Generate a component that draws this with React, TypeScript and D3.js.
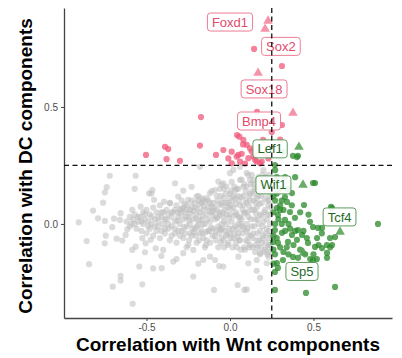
import React, { useEffect, useRef } from "react";
import * as d3 from "d3";

type Pt = [number, number];

const xTicks = [-0.5, 0, 0.5];
const yTicks = [0, 0.5];
const wntCut = 0.25;
const dcCut = 0.25;

// gray: below both cut-offs
const grayPoints: Pt[] = [
  [-0.72, 0.206], [-0.565, 0.206], [-0.738, 0.157], [-0.749, 0.135], [-0.571, 0.15], [-0.76, 0.091],
  [-0.82, 0.057], [-0.906, 0.007], [-0.79, 0.024], [-0.749, 0.013], [-0.695, 0.023], [-0.659, 0.017],
  [-0.705, -0.014], [-0.655, 0.046], [-0.615, -0.023], [-0.744, -0.05], [-0.858, -0.073], [-0.75, -0.083],
  [-0.679, -0.063], [-0.645, -0.071], [-0.625, -0.047], [-0.585, -0.111], [-0.509, -0.121], [-0.543, -0.182],
  [-0.411, -0.137], [-0.409, -0.189], [-0.844, -0.172], [-0.655, -0.222], [-0.655, -0.242], [-0.702, -0.268],
  [-0.525, -0.258], [-0.583, -0.341], [-0.585, 0.06], [-0.535, 0.074], [-0.485, 0.131], [-0.465, 0.145],
  [-0.455, 0.103], [-0.525, -0.061], [-0.505, -0.083], [-0.565, -0.097], [-0.445, -0.104], [-0.475, -0.068],
  [-0.329, 0.174], [-0.28, 0.142], [-0.23, 0.159], [-0.18, 0.244], [-0.395, 0.095], [-0.359, 0.088],
  [-0.31, 0.117], [-0.25, 0.103], [-0.2, 0.117], [-0.16, 0.103], [-0.12, 0.131], [-0.09, 0.145],
  [-0.07, 0.181], [-0.04, 0.174], [0, 0.217], [0.02, 0.231], [0.06, 0.188], [0.08, 0.159], [0.03, 0.145],
  [0.11, 0.209], [0.14, 0.188], [-0.4, -0.111], [-0.34, -0.161], [-0.28, -0.125], [-0.22, -0.111],
  [-0.16, -0.154], [-0.12, -0.14], [-0.09, -0.154], [-0.04, -0.182], [-0.22, -0.225], [-0.096, -0.282],
  [0.046, -0.261], [0.086, -0.282], [0.05, -0.14], [0.11, -0.168], [0.16, -0.154], [0.18, -0.125],
  [0.22, -0.168], [-0.46, -0.19], [-0.32, -0.15], [-0.26, -0.1], [-0.19, -0.17], [-0.065, -0.18],
  [0.1, -0.28], [0.18, -0.23], [0.16, -0.2], [-0.47, 0.13], [-0.05, 0.167], [0.06, 0.244], [0.1, 0.218],
  [0.12, 0.188],
  [-0.62, 0.01], [-0.6, 0.03], [-0.6, -0.01], [-0.58, 0.02], [-0.57, 0.04], [-0.56, -0.02], [-0.55, 0.01],
  [-0.59, 0.0], [-0.54, 0.03], [-0.53, -0.03], [-0.52, 0.05], [-0.52, 0.0], [-0.51, 0.02], [-0.5, -0.04],
  [-0.5, 0.06], [-0.49, 0.01], [-0.48, -0.02], [-0.48, 0.04], [-0.47, 0.0], [-0.46, -0.05], [-0.46, 0.07],
  [-0.45, 0.02], [-0.45, -0.01], [-0.44, 0.05], [-0.44, -0.03], [-0.43, 0.01], [-0.42, 0.08], [-0.42, -0.06],
  [-0.41, 0.03], [-0.4, 0.0], [-0.4, 0.05], [-0.39, -0.04], [-0.38, 0.06], [-0.38, 0.02], [-0.37, -0.02],
  [-0.36, 0.09], [-0.36, -0.07], [-0.35, 0.03], [-0.35, -0.01], [-0.34, 0.05], [-0.33, -0.04], [-0.33, 0.01],
  [-0.32, 0.08], [-0.32, -0.08], [-0.31, 0.03], [-0.3, 0.0], [-0.3, 0.06], [-0.29, -0.03], [-0.29, 0.1],
  [-0.28, 0.02], [-0.28, -0.06], [-0.27, 0.05], [-0.26, -0.01], [-0.26, 0.08], [-0.25, 0.03], [-0.25, -0.09],
  [-0.24, 0.0], [-0.24, 0.06], [-0.23, -0.05], [-0.23, 0.1], [-0.22, 0.02], [-0.21, -0.02], [-0.21, 0.07],
  [-0.2, 0.04], [-0.2, -0.08], [-0.19, 0.0], [-0.19, 0.12], [-0.18, -0.04], [-0.18, 0.05], [-0.17, 0.09],
  [-0.17, 0.02], [-0.16, -0.06], [-0.16, 0.06], [-0.15, 0.0], [-0.15, -0.1], [-0.14, 0.04], [-0.14, 0.11],
  [-0.13, -0.03], [-0.13, 0.07], [-0.12, 0.01], [-0.12, -0.08], [-0.11, 0.14], [-0.11, 0.05], [-0.1, -0.02],
  [-0.1, 0.09], [-0.09, 0.02], [-0.09, -0.05], [-0.08, 0.12], [-0.08, 0.06], [-0.07, -0.01], [-0.07, -0.1],
  [-0.06, 0.04], [-0.06, 0.15], [-0.05, 0.0], [-0.05, 0.08], [-0.05, -0.06], [-0.04, 0.03], [-0.04, 0.11],
  [-0.03, -0.03], [-0.03, 0.06], [-0.02, 0.16], [-0.02, 0.0], [-0.01, -0.08], [-0.01, 0.09], [0, 0.04],
  [0, -0.04], [0, 0.13], [0.01, 0.01], [0.01, 0.18], [0.02, -0.06], [0.02, 0.07], [0.03, -0.01], [0.03, 0.11],
  [0.04, 0.04], [0.04, -0.1], [0.05, 0.15], [0.05, 0.0], [0.05, -0.04], [0.06, 0.08], [0.06, -0.07],
  [0.07, 0.02], [0.07, 0.19], [0.08, -0.02], [0.08, 0.12], [0.09, 0.05], [0.09, -0.11], [0.1, 0.0],
  [0.1, 0.16], [0.1, 0.09], [0.11, -0.05], [0.11, 0.03], [0.12, 0.13], [0.12, -0.09], [0.13, 0.06],
  [0.13, -0.01], [0.13, 0.21], [0.14, 0.1], [0.14, -0.04], [0.15, 0.02], [0.15, -0.12], [0.15, 0.15],
  [0.16, 0.07], [0.16, -0.07], [0.17, 0.0], [0.17, 0.12], [0.17, 0.2], [0.18, -0.03], [0.18, 0.04],
  [0.18, -0.13], [0.19, 0.09], [0.19, 0.16], [0.19, -0.08], [0.2, 0.01], [0.2, -0.05], [0.2, 0.23],
  [0.21, 0.11], [0.21, 0.06], [0.21, -0.11], [0.22, -0.02], [0.22, 0.14], [0.22, 0.02], [0.23, 0.08],
  [0.23, -0.06], [0.23, 0.18], [0.23, -0.14], [0.24, 0.0], [0.24, 0.04], [0.24, -0.09], [0.24, 0.12],
  [0.235, -0.03], [0.245, 0.07],
  [-0.315, 0.015], [-0.295, 0.045], [-0.275, -0.015], [-0.265, 0.03], [-0.245, 0.015], [-0.235, 0.045],
  [-0.215, -0.035], [-0.205, 0.025], [-0.195, 0.065], [-0.185, 0.015], [-0.175, -0.02], [-0.165, 0.035],
  [-0.155, 0.075], [-0.145, -0.035], [-0.135, 0.02], [-0.125, 0.055], [-0.115, -0.015], [-0.105, 0.035],
  [-0.095, 0.07], [-0.085, -0.03], [-0.075, 0.025], [-0.065, 0.085], [-0.055, -0.025], [-0.045, 0.05],
  [-0.035, 0.01], [-0.025, 0.09], [-0.015, -0.045], [-0.005, 0.025], [0.005, 0.065], [0.015, -0.02],
  [0.025, 0.035], [0.035, 0.085], [0.045, -0.055], [0.055, 0.025], [0.065, 0.115], [0.075, -0.04],
  [0.085, 0.045], [0.095, 0.14], [0.105, -0.075], [0.115, 0.075], [0.125, 0.02], [0.135, -0.06],
  [0.145, 0.13], [0.155, 0.045], [0.165, -0.1], [0.175, 0.085], [0.185, 0.17], [0.195, -0.01],
  [0.205, 0.14], [0.215, -0.08], [0.225, 0.1], [0.235, 0.16], [0.24, -0.12], [0.225, -0.1], [0.2, 0.19],
  [0.19, 0.035], [0.16, 0.11], [0.14, 0.17], [0.12, 0.1], [0.1, -0.03], [0.08, 0.08], [0.06, 0.03],
  [0.04, 0.15], [0.02, 0.12], [0.0, 0.08], [-0.02, 0.04], [-0.04, -0.07], [-0.06, -0.02], [-0.08, 0.03],
  [-0.1, 0.055], [-0.12, 0.09], [-0.14, -0.07], [-0.16, 0.0], [-0.18, 0.085], [-0.2, -0.01], [-0.22, 0.055],
  [-0.24, -0.04], [-0.26, 0.06], [-0.28, 0.07], [-0.3, -0.05],
  [0.205, 0.05], [0.215, 0.17], [0.225, 0.04], [0.235, 0.1], [0.245, -0.05], [0.245, 0.15], [0.23, 0.21],
  [0.21, 0.2], [0.195, 0.21], [0.185, 0.12], [0.175, 0.15], [0.165, 0.02], [0.155, 0.09], [0.145, 0.06],
  [0.135, 0.14], [0.125, 0.17], [0.115, 0.12], [0.105, 0.05], [0.095, 0.1], [0.085, 0.17], [0.075, 0.06],
  [0.065, 0.0], [0.055, 0.1], [0.045, 0.12], [0.035, 0.05], [0.025, 0.16], [0.015, 0.1], [0.005, 0.14],
  [-0.005, 0.11], [-0.015, 0.07], [-0.025, 0.13], [-0.035, 0.15], [-0.045, 0.09], [-0.055, 0.12],
  [-0.065, 0.05], [-0.075, 0.1],
  [0.235, -0.09], [0.225, -0.13], [0.215, -0.04], [0.205, -0.12], [0.195, -0.06], [0.185, -0.1],
  [0.175, -0.07], [0.165, -0.04], [0.155, -0.09], [0.145, -0.01], [0.135, -0.1], [0.125, -0.05],
  [0.115, -0.1], [0.105, -0.02], [0.095, -0.07], [0.085, -0.1], [0.075, -0.01], [0.065, -0.11],
  [0.055, -0.07], [0.045, -0.02], [0.035, -0.08], [0.025, -0.04], [0.015, -0.1], [0.005, -0.06],
  [-0.005, -0.02], [-0.015, -0.09], [-0.025, -0.05], [-0.035, -0.1], [-0.045, -0.02], [-0.055, -0.08],
  [-0.065, -0.04], [-0.085, -0.07], [-0.105, -0.05], [-0.125, -0.03], [-0.145, -0.09], [-0.165, -0.04],
  [-0.185, -0.07], [-0.205, -0.05], [-0.225, -0.02], [-0.245, -0.07],
  [-0.27, 0.085], [-0.29, 0.065], [-0.31, 0.05], [-0.33, 0.06], [-0.35, 0.05], [-0.37, 0.04], [-0.39, 0.02],
  [-0.41, 0.05], [-0.43, 0.03], [-0.47, 0.03], [-0.49, -0.01], [-0.51, 0.04], [-0.53, 0.01], [-0.55, 0.03],
  [-0.57, 0.0], [-0.31, -0.03], [-0.33, -0.02], [-0.35, -0.05], [-0.37, 0.0], [-0.39, -0.02], [-0.41, -0.03],
  [-0.43, -0.01], [-0.27, -0.04], [-0.23, 0.075], [-0.21, 0.09], [-0.19, 0.1], [-0.17, 0.11], [-0.15, 0.095],
  [-0.13, 0.1], [-0.11, 0.075],
];

// red: DC-correlated genes
const redPoints: Pt[] = [
  [0.144, 0.748], [0.311, 0.675], [-0.174, 0.457], [-0.503, 0.295], [-0.389, 0.33], [-0.37, 0.32],
  [-0.38, 0.277], [-0.3, 0.27], [-0.18, 0.335], [-0.084, 0.295], [-0.04, 0.316], [0.01, 0.309],
  [-0.01, 0.28], [0.05, 0.295], [0.056, 0.373], [0.08, 0.359], [0.1, 0.338], [0.12, 0.323], [0.06, 0.266],
  [0.09, 0.258], [0.14, 0.288], [0.19, 0.266], [0.15, 0.274], [0.18, 0.259], [0.198, 0.359], [0.25, 0.393],
  [0.311, 0.423], [0.162, 0.479], [0.042, 0.38], [0.078, 0.34], [0.3, 0.36], [0.11, 0.281], [0.04, 0.288],
  [0.21, 0.3], [0.23, 0.28], [0.24, 0.33], [0.01, 0.259], [0.16, 0.266], [0.13, 0.31], [0.07, 0.3],
];
const redTriangles: Pt[] = [[0.228, 0.868], [0.21, 0.833], [0.168, 0.645], [0.377, 0.474]];

// green: Wnt-correlated genes
const greenPoints: Pt[] = [
  [0.401, 0.286], [0.377, 0.291], [0.407, 0.291], [0.317, 0.308], [0.269, 0.252], [0.509, 0.175],
  [0.497, 0.175], [0.371, 0.132], [0.329, 0.115], [0.341, 0.094], [0.443, 0.081], [0.281, 0.068],
  [0.299, 0.06], [0.359, 0.051], [0.287, 0.038], [0.389, 0.026], [0.329, 0.017], [0.479, 0.009],
  [0.611, 0.068], [0.605, 0.073], [0.886, 0], [0.527, -0.017], [0.497, -0.013], [0.551, -0.017],
  [0.407, -0.026], [0.269, -0.026], [0.311, -0.038], [0.371, -0.047], [0.431, -0.047], [0.629, -0.056],
  [0.599, -0.06], [0.521, -0.06], [0.401, -0.068], [0.347, -0.077], [0.287, -0.081], [0.257, -0.077],
  [0.467, -0.081], [0.509, -0.098], [0.611, -0.09], [0.551, -0.103], [0.581, -0.124], [0.581, -0.145],
  [0.377, -0.141], [0.407, -0.145], [0.497, -0.154], [0.317, -0.154], [0.281, -0.167], [0.287, -0.188],
  [0.269, -0.205], [0.629, -0.269], [0.455, -0.295], [0.269, -0.282],
  [0.26, 0.12], [0.27, 0.1], [0.28, 0.13], [0.3, 0.15], [0.26, 0.05], [0.27, 0.0], [0.29, 0.02],
  [0.31, 0.0], [0.26, -0.05], [0.28, -0.06], [0.3, -0.1], [0.26, -0.11], [0.27, -0.13], [0.32, -0.12],
  [0.34, -0.1], [0.33, -0.03], [0.35, 0.0], [0.36, -0.02], [0.3, 0.08], [0.32, 0.06], [0.31, 0.1],
  [0.27, 0.18], [0.28, 0.2], [0.33, 0.2], [0.26, -0.17], [0.35, -0.13], [0.38, -0.09], [0.42, -0.11],
  [0.45, -0.13], [0.48, -0.15], [0.52, -0.15], [0.44, -0.03], [0.46, -0.06], [0.39, -0.03], [0.42, 0.05],
  [0.37, 0.08], [0.345, 0.15], [0.39, 0.2], [0.27, 0.23], [0.5, -0.13], [0.53, -0.09], [0.47, 0.04],
  [0.55, -0.04], [0.58, -0.09], [0.6, -0.1],
];
const greenTriangles: Pt[] = [[0.413, 0.329], [0.437, 0.167], [0.659, -0.034], [0.44, -0.124]];

const labelGenes = ["Foxd1", "Sox2", "Sox18", "Bmp4", "Lef1", "Wif1", "Tcf4", "Sp5"];
const labelX = [0.0, 0.305, 0.204, 0.174, 0.24, 0.26, 0.656, 0.431];
const labelY = [0.863, 0.759, 0.577, 0.44, 0.321, 0.167, 0.03, -0.203];
const labelGroup = ["dc", "dc", "dc", "dc", "wnt", "wnt", "wnt", "wnt"];

const font = "'Liberation Sans', Arial, Helvetica, sans-serif";

function App() {
  const svgRef = useRef<SVGSVGElement>(null);

  useEffect(() => {
    const width = 402;
    const height = 358;

    const svg = d3.select(svgRef.current);
    svg.selectAll("*").remove();
    svg.attr("width", width).attr("height", height);

    const x = d3.scaleLinear().domain([-0.994, 0.97]).range([64, 392]);
    const y = d3.scaleLinear().domain([-0.402, 0.923]).range([318, 8]);

    const g = svg.append("g");

    const dots = (pts: Pt[], fill: string, opacity: number) =>
      g.append("g")
        .selectAll("circle")
        .data(pts)
        .enter()
        .append("circle")
        .attr("cx", (d) => x(d[0]))
        .attr("cy", (d) => y(d[1]))
        .attr("r", 3.1)
        .attr("fill", fill)
        .attr("fill-opacity", opacity);

    const tri = d3.symbol().type(d3.symbolTriangle).size(40);
    const triangles = (pts: Pt[], fill: string) =>
      g.append("g")
        .selectAll("path")
        .data(pts)
        .enter()
        .append("path")
        .attr("d", tri)
        .attr("transform", (d) => `translate(${x(d[0])},${y(d[1])})`)
        .attr("fill", fill)
        .attr("fill-opacity", 0.85);

    dots(grayPoints, "#bebebe", 0.55);
    dots(redPoints, "#f0587a", 0.75);
    triangles(redTriangles, "#f4809a");
    dots(greenPoints, "#2a8a2a", 0.75);
    triangles(greenTriangles, "#4f9f4f");

    // axes
    const xAxis = d3.axisBottom(x).tickValues(xTicks).tickSize(3).tickSizeOuter(0).tickPadding(3)
      .tickFormat((d) => (d as number).toFixed(1));
    const yAxis = d3.axisLeft(y).tickValues(yTicks).tickSize(3).tickSizeOuter(0).tickPadding(3)
      .tickFormat((d) => (d as number).toFixed(1));

    const xg = svg.append("g").attr("transform", "translate(0,318)").call(xAxis);
    const yg = svg.append("g").attr("transform", "translate(64,0)").call(yAxis);
    [xg, yg].forEach((a) => {
      a.attr("font-family", font).attr("font-size", 10);
      a.select(".domain").attr("stroke", "#444").attr("stroke-width", 1.3);
      a.selectAll(".tick line").attr("stroke", "#444");
      a.selectAll(".tick text").attr("fill", "#4d4d4d");
    });

    // gene labels
    const lab = svg.append("g");
    labelGenes.forEach((gene, i) => {
      const isDc = labelGroup[i] === "dc";
      const stroke = isDc ? "#ec7d95" : "#5c9c5c";
      const color = isDc ? "#e24a6c" : "#1f6b1f";
      const cx = x(labelX[i]);
      const cy = y(labelY[i]);
      const lg = lab.append("g");
      const rect = lg.append("rect");
      const t = lg.append("text")
        .attr("x", cx)
        .attr("y", cy + 4.6)
        .attr("text-anchor", "middle")
        .attr("font-family", font)
        .attr("font-size", 13)
        .attr("fill", color)
        .text(gene);
      const w = (t.node() as SVGTextElement).getComputedTextLength() + 9;
      rect.attr("x", cx - w / 2).attr("y", cy - 9).attr("width", w).attr("height", 18)
        .attr("rx", 3).attr("fill", "#fff").attr("fill-opacity", 0.9)
        .attr("stroke", stroke).attr("stroke-width", 1);
    });

    // cut-off lines
    svg.append("line")
      .attr("x1", x(wntCut)).attr("x2", x(wntCut))
      .attr("y1", y.range()[1]).attr("y2", y.range()[0])
      .attr("stroke", "#111").attr("stroke-width", 1.3).attr("stroke-dasharray", "5,3.5");
    svg.append("line")
      .attr("x1", x.range()[0]).attr("x2", x.range()[1])
      .attr("y1", y(dcCut)).attr("y2", y(dcCut))
      .attr("stroke", "#111").attr("stroke-width", 1.3).attr("stroke-dasharray", "5,3.5");

    // titles
    svg.append("text")
      .attr("x", 228).attr("y", 351)
      .attr("text-anchor", "middle")
      .attr("font-family", font).attr("font-size", 19).attr("font-weight", "bold")
      .attr("fill", "#000")
      .text("Correlation with Wnt components");
    svg.append("text")
      .attr("transform", "translate(32,166) rotate(-90)")
      .attr("text-anchor", "middle")
      .attr("font-family", font).attr("font-size", 19).attr("font-weight", "bold")
      .attr("fill", "#000")
      .text("Correlation with DC components");
  }, []);

  return (
    <svg
      ref={svgRef}
      style={{ position: "absolute", left: 0, top: 0, display: "block", background: "#fff" }}
    />
  );
}

export default App;
